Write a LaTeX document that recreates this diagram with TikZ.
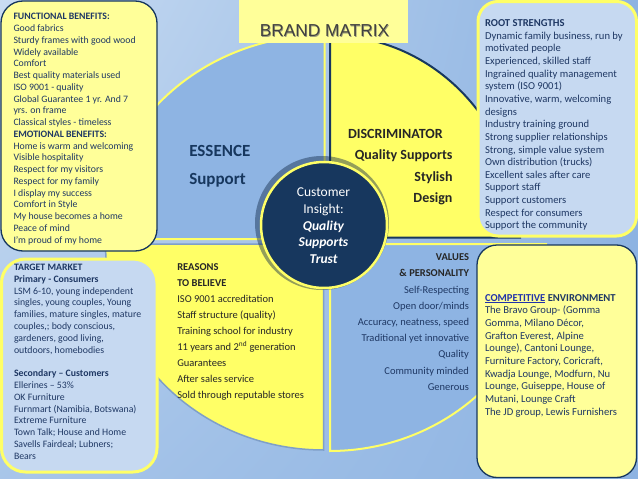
\documentclass[tikz,border=0pt]{standalone}
\usepackage{fontspec}
\usetikzlibrary{shadings}
\setmainfont{Carlito}
\newfontfamily\arialfont{Liberation Sans}
\definecolor{bgl}{HTML}{C9DCF2}
\definecolor{bgm}{HTML}{8DB3E2}
\definecolor{qblue}{HTML}{8EB4E3}
\definecolor{qyellow}{HTML}{FFFF66}
\definecolor{pyellow}{HTML}{FFFF99}
\definecolor{lblue}{HTML}{C6D9F1}
\definecolor{navy}{HTML}{17375E}
\definecolor{txtnavy}{HTML}{1F3864}
\definecolor{darktxt}{HTML}{262626}
\definecolor{linkblue}{HTML}{2233AA}
\definecolor{blshadow}{HTML}{7F9FC8}
\definecolor{titleshadow}{HTML}{9C9C7A}
\newcommand\myfs[2]{\fontsize{#1}{#2}\selectfont}
\newcommand\colL[6]{\foreach \t [count=\i from 0] in {#6}{\node[#4,anchor=base west] (#5-\i) at (#1,{#2+\i*#3}) {\t};}}
\newcommand\colR[6]{\foreach \t [count=\i from 0] in {#6}{\node[#4,anchor=base east] (#5-\i) at (#1,{#2+\i*#3}) {\t};}}
\newcommand\colC[6]{\foreach \t [count=\i from 0] in {#6}{\node[#4,anchor=base] (#5-\i) at (#1,{#2+\i*#3}) {\t};}}
\begin{document}
\begin{tikzpicture}[x=1pt,y=-1pt,
  txt/.style={inner sep=0pt,outer sep=0pt,text=txtnavy},
  smalltxt/.style={txt,font=\myfs{9.8}{11.7}},
  boxtxt/.style={txt,font=\myfs{10.6}{12.6}},
  midtxt/.style={inner sep=0pt,outer sep=0pt,font=\myfs{10.5}{12.5}},
  bigtxt/.style={inner sep=0pt,outer sep=0pt,font=\myfs{17}{20}\bfseries,text=navy},
  disctxt/.style={inner sep=0pt,outer sep=0pt,font=\myfs{14}{16}\bfseries,text=darktxt},
  circtxt/.style={inner sep=0pt,outer sep=0pt,font=\myfs{13.5}{16},text=white},
  yellowbox/.style={fill=pyellow,draw=navy,line width=1.3pt,rounded corners=22pt},
  bluebox/.style={fill=lblue,draw=qyellow,line width=3pt,rounded corners=24pt}]
\useasboundingbox (0,0) rectangle (638,479);
% background
\shade[upper left=bgl,upper right=bgm,lower left=bgl!45!bgm,lower right=bgm] (0,0) rectangle (638,479);
% pie quadrants
\filldraw[fill=qyellow,draw=blshadow,line width=1.5pt] (323.5,244) -- plot[domain=90:180,samples=80] ({323.5+218*cos(\x)},{244+206*sin(\x)}) -- cycle;
\filldraw[fill=qblue,draw=qyellow,line width=2pt] (330,244) -- plot[domain=0:90,samples=80] ({330+216*cos(\x)},{244+207*sin(\x)}) -- cycle;
\filldraw[fill=qblue,draw=qyellow,line width=2pt] (324.5,239) -- plot[domain=180:270,samples=80] ({324.5+222*cos(\x)},{239+204*sin(\x)}) -- cycle;
\filldraw[fill=qyellow,draw=navy,line width=2pt] (330,237.5) -- plot[domain=270:360,samples=80] ({330+190*cos(\x)},{237.5+202*sin(\x)}) -- cycle;
% quadrant texts
\node[bigtxt,anchor=base west] (essence) at (189.3,156.7) {ESSENCE};
\node[bigtxt,anchor=base west] (support) at (189.3,184.5) {Support};
\node[disctxt,anchor=base west] (discr) at (348,138.5) {DISCRIMINATOR};
\colR{452.5}{159.5}{21.5}{disctxt}{disc}{{Quality Supports},{Stylish},{Design}}
\colL{177.3}{270.7}{16}{midtxt,text=darktxt}{rtb}{{\textbf{REASONS}},{\textbf{TO BELIEVE}},{ISO 9001 accreditation},{Staff structure (quality)},{Training school for industry},{11 years and 2\textsuperscript{nd} generation},{Guarantees},{After sales service},{Sold through reputable stores}}
\colR{469}{260.7}{16.2}{midtxt,text=txtnavy}{val}{{\textbf{\color{darktxt}VALUES}},{\textbf{\color{darktxt}\& PERSONALITY}},{Self-Respecting},{Open door/minds},{Accuracy, neatness, speed},{Traditional yet innovative},{Quality},{Community minded},{Generous}}
% centre circle
\fill[navy!80!black,opacity=0.45] (322,223) circle[radius=67];
\node[circle,draw=qyellow,line width=2.5pt,fill=navy,minimum size=126pt,inner sep=0pt] (insight) at (324,225) {};
\colC{323.5}{196.7}{16.7}{circtxt}{ci}{{Customer},{Insight:},{\bfseries\itshape Quality},{\bfseries\itshape Supports},{\bfseries\itshape Trust}}
% title
\node[fill=pyellow,minimum width=169pt,minimum height=46pt,inner sep=0pt] (bm) at (323.5,20) {};
\node[inner sep=0pt,anchor=base,font=\arialfont\myfs{17.3}{20},text=titleshadow] (bmshadow) at (325.3,37.6) {BRAND MATRIX};
\node[inner sep=0pt,anchor=base,font=\arialfont\myfs{17.3}{20},text=black!75] (bmtext) at (324.5,36) {BRAND MATRIX};
% left boxes
\draw[yellowbox] (1,1) rectangle (157,251);
\colL{13.5}{19.8}{11.75}{smalltxt}{fb}{{\textbf{FUNCTIONAL BENEFITS:}},{Good fabrics},{Sturdy frames with good wood},{Widely available},{Comfort},{Best quality materials used},{ISO 9001 - quality},{Global Guarantee  1 yr. And 7},{yrs. on frame},{Classical styles - timeless},{\textbf{EMOTIONAL BENEFITS:}},{Home is warm and welcoming},{Visible hospitality},{Respect for my visitors},{Respect for my family},{I display my success},{Comfort in Style},{My house becomes a home},{Peace of mind},{I’m proud of my home}}
\draw[bluebox] (1.5,259) rectangle (157,472);
\colL{14}{270.5}{11.8}{smalltxt}{tm}{{\textbf{TARGET MARKET}},{\textbf{Primary - Consumers}},{LSM 6-10, young independent},{singles, young couples, Young},{families, mature singles, mature},{couples,; body conscious,},{gardeners, good living,},{outdoors, homebodies}}
\colL{14}{376.7}{11.8}{smalltxt}{sc}{{\textbf{Secondary – Customers}},{Ellerines – 53\%},{OK Furniture},{Furnmart (Namibia, Botswana)},{Extreme Furniture},{Town Talk; House and Home},{Savells  Fairdeal; Lubners;},{Bears}}
% right boxes
\draw[bluebox,rounded corners=20pt] (478,1.5) rectangle (636.5,236);
\colL{485}{26.5}{12.65}{boxtxt}{rs}{{\textbf{ROOT STRENGTHS}},{Dynamic family business, run by},{motivated people},{Experienced, skilled staff},{Ingrained quality management},{system (ISO 9001)},{Innovative, warm, welcoming},{designs},{Industry training ground},{Strong supplier relationships},{Strong, simple value system},{Own distribution (trucks)},{Excellent sales after care},{Support staff},{Support customers},{Respect for consumers},{Support the community}}
\draw[yellowbox,rounded corners=20pt] (477,245) rectangle (636.5,477.5);
\colL{485}{301}{12.7}{boxtxt}{ce}{{\textbf{\textcolor{linkblue}{\underline{COMPETITIVE}} ENVIRONMENT}},{The Bravo Group- (Gomma},{Gomma,  Milano Décor,},{Grafton Everest, Alpine},{Lounge), Cantoni Lounge,},{Furniture Factory, Coricraft,},{Kwadja Lounge, Modfurn, Nu},{Lounge, Guiseppe, House of},{Mutani, Lounge Craft},{The JD group, Lewis Furnishers}}
\end{tikzpicture}
\end{document}
